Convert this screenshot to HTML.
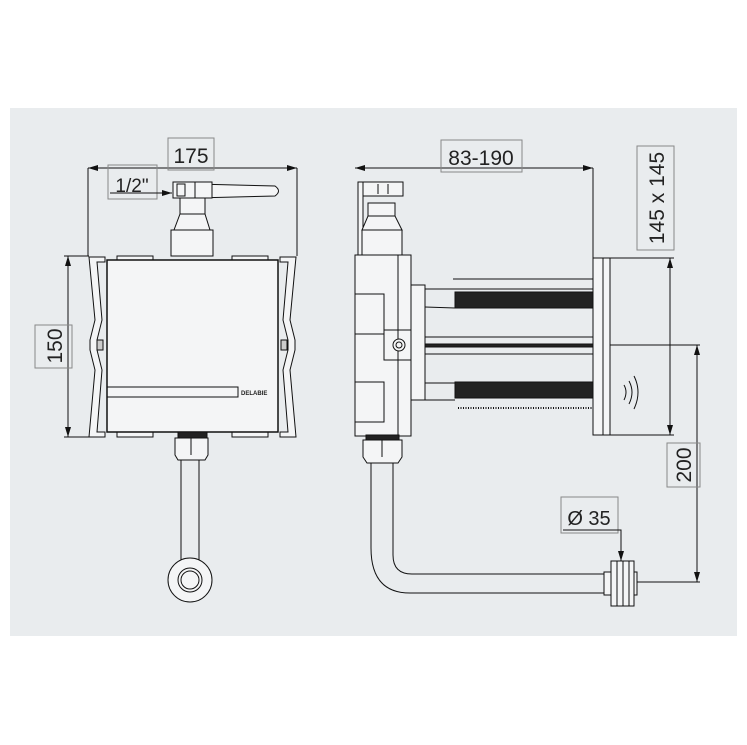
<!DOCTYPE html>
<html><head><meta charset="utf-8"><style>
html,body{margin:0;padding:0;background:#fff;}
svg{display:block;}
text{font-family:"Liberation Sans","DejaVu Sans",sans-serif;fill:#222;}
</style></head><body>
<svg width="747" height="745" viewBox="0 0 747 745" xmlns="http://www.w3.org/2000/svg">
<defs>
<marker id="a" viewBox="0 0 10 6" refX="10" refY="3" markerWidth="10" markerHeight="6" orient="auto-start-reverse" markerUnits="userSpaceOnUse"><path d="M0,0 L10,3 L0,6z" fill="#111"/></marker>
</defs>
<rect x="10" y="108" width="727" height="528" fill="#e9ecee"/>
<g stroke="#111" stroke-width="1" fill="none">
<!-- LEFT VIEW -->
<line x1="88" y1="168" x2="88" y2="256"/><line x1="297" y1="168" x2="297" y2="256"/>
<line x1="88" y1="168" x2="297" y2="168" marker-start="url(#a)" marker-end="url(#a)"/>
<rect x="168" y="138" width="46" height="32" stroke="#888"/>
<rect x="108" y="165" width="49" height="34" stroke="#888"/>
<line x1="110" y1="193" x2="172" y2="193" marker-end="url(#a)"/>
<path d="M195,184 L275,186 Q282,191 275,196 L195,198z" fill="#f4f5f6"/>
<rect x="173" y="182" width="22" height="16" fill="#f4f5f6"/>
<rect x="177" y="184" width="8" height="12" fill="#f4f5f6"/>
<rect x="195" y="182" width="17" height="16" fill="#f4f5f6"/>
<rect x="180" y="198" width="25" height="16" fill="#f4f5f6"/>
<path d="M180,214 L205,214 L210,230 L174,230z" fill="#f4f5f6"/>
<rect x="171" y="230" width="42" height="26" fill="#f4f5f6"/>
<path d="M89,257 L105,257 L105,262 L97,262 L102,320 L97,340 L97,350 L102,370 L97,432 L105,432 L105,437 L89,437 L95,370 L90,350 L90,340 L95,320z" fill="#f4f5f6"/>
<path d="M296,257 L280,257 L280,262 L288,262 L283,320 L288,340 L288,350 L283,370 L288,432 L280,432 L280,437 L296,437 L290,370 L295,350 L295,340 L290,320z" fill="#f4f5f6"/>
<rect x="117" y="256" width="36" height="4" fill="#f4f5f6"/><rect x="232" y="256" width="36" height="4" fill="#f4f5f6"/>
<rect x="117" y="432" width="36" height="5" fill="#f4f5f6"/><rect x="232" y="432" width="36" height="5" fill="#f4f5f6"/>
<rect x="107" y="260" width="171" height="172" fill="#f4f5f6" stroke-width="1.5"/>
<rect x="107" y="387" width="131" height="10"/>
<rect x="97" y="340" width="6" height="10" fill="#ccc"/><rect x="281" y="340" width="6" height="10" fill="#ccc"/>
<line x1="64" y1="256" x2="89" y2="256"/><line x1="64" y1="437" x2="89" y2="437"/>
<line x1="68" y1="256" x2="68" y2="437" marker-start="url(#a)" marker-end="url(#a)"/>
<rect x="35" y="325" width="37" height="43" stroke="#888"/>
<rect x="178" y="432" width="29" height="6" fill="#222"/>
<path d="M175,438 L208,438 L208,455 L205,460 L178,460 L175,455z" fill="#f4f5f6"/>
<line x1="191" y1="438" x2="191" y2="455"/>
<line x1="181" y1="460" x2="181" y2="563"/><line x1="199" y1="460" x2="199" y2="563"/>
<circle cx="190" cy="580" r="22" fill="#f4f5f6"/><circle cx="190" cy="580" r="12"/><circle cx="190" cy="580" r="9"/>

<!-- RIGHT VIEW -->
<line x1="355" y1="168" x2="593" y2="168" marker-start="url(#a)" marker-end="url(#a)"/>
<line x1="593" y1="168" x2="593" y2="258"/>
<rect x="441" y="140" width="81" height="32" stroke="#888"/>
<rect x="358" y="182" width="5" height="73" fill="#f4f5f6"/>
<rect x="363" y="182" width="40" height="14" fill="#f4f5f6"/>
<line x1="378" y1="184" x2="378" y2="194"/><line x1="388" y1="184" x2="388" y2="194"/>
<rect x="368" y="203" width="27" height="13" fill="#f4f5f6"/>
<path d="M368,216 L395,216 L402,230 L362,230z" fill="#f4f5f6"/>
<rect x="362" y="230" width="40" height="25" fill="#f4f5f6"/>
<rect x="355" y="255" width="43" height="181" fill="#f4f5f6"/>
<rect x="398" y="255" width="13" height="181" fill="#f4f5f6"/>
<rect x="355" y="294" width="29" height="40" fill="#f4f5f6"/><rect x="355" y="382" width="29" height="40" fill="#f4f5f6"/>
<rect x="384" y="330" width="27" height="30"/>
<circle cx="399" cy="345" r="6" fill="#f4f5f6"/><circle cx="399" cy="345" r="3"/>
<rect x="411" y="285" width="14" height="115" fill="#f4f5f6"/>
<line x1="453" y1="279" x2="593" y2="279"/>
<line x1="425" y1="289" x2="593" y2="289"/>
<line x1="425" y1="307" x2="455" y2="308"/>
<rect x="455" y="292" width="138" height="16" fill="#222"/>
<line x1="425" y1="337" x2="593" y2="337"/><line x1="425" y1="354" x2="593" y2="354"/>
<rect x="425" y="344" width="168" height="3" fill="#222"/>
<line x1="425" y1="383" x2="455" y2="383"/>
<rect x="455" y="382" width="138" height="16" fill="#222"/>
<line x1="425" y1="400" x2="455" y2="400"/>
<line x1="458" y1="408" x2="593" y2="408" stroke-dasharray="1 1.5" stroke-width="2"/>
<rect x="593" y="258" width="17" height="177" fill="#f4f5f6"/>
<line x1="603" y1="258" x2="603" y2="435"/>
<path d="M624,385 Q628,392 624,400 M629,381 Q635,392 629,404 M634,376 Q642,392 634,409"/>
<line x1="610" y1="258" x2="674" y2="258"/><line x1="610" y1="435" x2="674" y2="435"/>
<line x1="670" y1="258" x2="670" y2="435" marker-start="url(#a)" marker-end="url(#a)"/>
<rect x="637" y="146" width="37" height="104" stroke="#888"/>
<line x1="610" y1="345" x2="700" y2="345"/>
<line x1="697" y1="345" x2="697" y2="582" marker-start="url(#a)" marker-end="url(#a)"/>
<line x1="637" y1="582" x2="700" y2="582"/>
<rect x="667" y="443" width="33" height="44" stroke="#888"/>
<!-- bottom pipe -->
<rect x="366" y="435" width="33" height="5" fill="#222"/>
<path d="M363,440 L402,440 L402,457 L398,463 L367,463 L363,457z" fill="#f4f5f6"/>
<line x1="382" y1="440" x2="382" y2="457"/>
<path d="M371,463 L371,548 Q371,593 410,593 L604,593 M393,463 L393,555 Q393,574 412,574 L604,574" fill="none"/>
<rect x="604" y="572" width="7" height="23" fill="#f4f5f6"/>
<rect x="611" y="561" width="23" height="45" fill="#f4f5f6"/>
<line x1="617" y1="561" x2="617" y2="606"/><line x1="623" y1="561" x2="623" y2="606"/><line x1="629" y1="561" x2="629" y2="606"/>
<rect x="634" y="572" width="3" height="23" fill="#f4f5f6"/>
<rect x="561" y="497" width="57" height="36" stroke="#888"/>
<polyline points="563,530 621,530 621,561" marker-end="url(#a)"/>
</g>
<g font-size="21" fill="#222">
<text x="191" y="163" text-anchor="middle">175</text>
<text x="132" y="192" text-anchor="middle" font-size="19">1/2"</text>
<text x="481" y="165" text-anchor="middle">83-190</text>
<text x="589" y="525" text-anchor="middle" font-size="20">Ø 35</text>
<text transform="translate(62,346) rotate(-90)" text-anchor="middle">150</text>
<text transform="translate(664,198) rotate(-90)" text-anchor="middle">145 x 145</text>
<text transform="translate(691,465) rotate(-90)" text-anchor="middle">200</text>
<text x="241" y="395" font-size="6" font-weight="bold">DELABIE</text>
</g>
</svg>
</body></html>
